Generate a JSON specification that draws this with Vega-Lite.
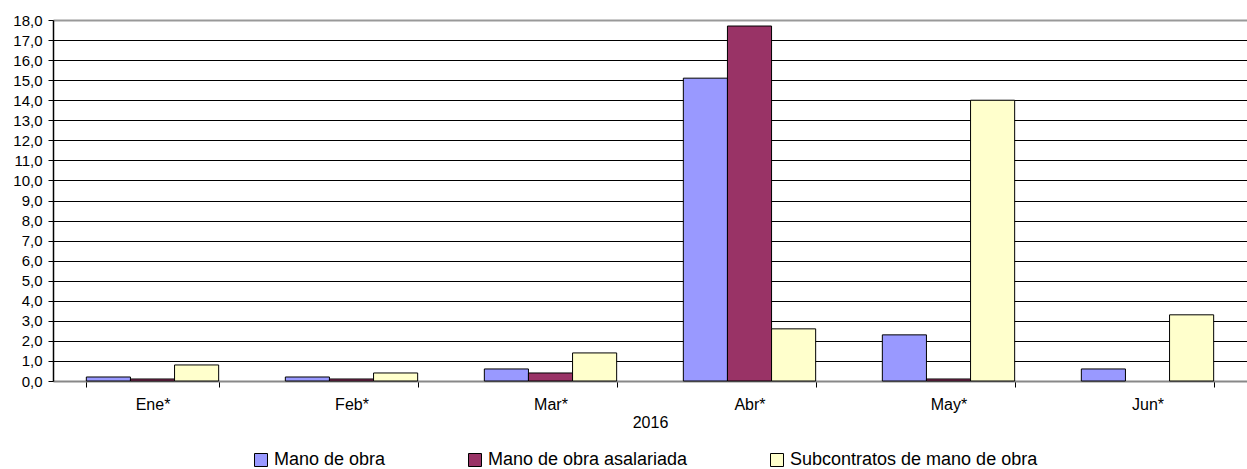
{
  "$schema": "https://vega.github.io/schema/vega-lite/v6.json",
  "autosize": {"type": "none"},
  "width": 1194,
  "height": 361,
  "padding": {"left": 53, "top": 20, "right": 0, "bottom": 88},
  "background": "white",
  "data": {"values": [
    {"mes": "Ene*", "serie": "Mano de obra", "valor": 0.2},
    {"mes": "Ene*", "serie": "Mano de obra asalariada", "valor": 0.1},
    {"mes": "Ene*", "serie": "Subcontratos de mano de obra", "valor": 0.8},
    {"mes": "Feb*", "serie": "Mano de obra", "valor": 0.2},
    {"mes": "Feb*", "serie": "Mano de obra asalariada", "valor": 0.1},
    {"mes": "Feb*", "serie": "Subcontratos de mano de obra", "valor": 0.4},
    {"mes": "Mar*", "serie": "Mano de obra", "valor": 0.6},
    {"mes": "Mar*", "serie": "Mano de obra asalariada", "valor": 0.4},
    {"mes": "Mar*", "serie": "Subcontratos de mano de obra", "valor": 1.4},
    {"mes": "Abr*", "serie": "Mano de obra", "valor": 15.1},
    {"mes": "Abr*", "serie": "Mano de obra asalariada", "valor": 17.7},
    {"mes": "Abr*", "serie": "Subcontratos de mano de obra", "valor": 2.6},
    {"mes": "May*", "serie": "Mano de obra", "valor": 2.3},
    {"mes": "May*", "serie": "Mano de obra asalariada", "valor": 0.1},
    {"mes": "May*", "serie": "Subcontratos de mano de obra", "valor": 14.0},
    {"mes": "Jun*", "serie": "Mano de obra", "valor": 0.6},
    {"mes": "Jun*", "serie": "Subcontratos de mano de obra", "valor": 3.3}
  ]},
  "mark": {"type": "bar", "stroke": "#000000", "strokeWidth": 1},
  "encoding": {
    "x": {
      "field": "mes", "type": "nominal",
      "sort": ["Ene*", "Feb*", "Mar*", "Abr*", "May*", "Jun*"],
      "scale": {"paddingInner": 0.335, "paddingOuter": 0.1675},
      "axis": {
        "title": "2016", "titleFont": "Liberation Sans", "titleFontSize": 16, "titleFontWeight": "normal",
        "titleColor": "#000", "titlePadding": 2,
        "labelFont": "Liberation Sans", "labelFontSize": 16, "labelColor": "#000", "labelAngle": 0, "labelPadding": 9,
        "tickBand": "extent", "tickColor": "#000", "tickSize": 6,
        "domainColor": "#888", "domainWidth": 2, "grid": false
      }
    },
    "xOffset": {
      "field": "serie", "type": "nominal",
      "sort": ["Mano de obra", "Mano de obra asalariada", "Subcontratos de mano de obra"],
      "scale": {"paddingInner": 0, "paddingOuter": 0}
    },
    "y": {
      "field": "valor", "type": "quantitative",
      "scale": {"domain": [0, 18], "nice": false},
      "axis": {
        "title": null,
        "values": [0,1,2,3,4,5,6,7,8,9,10,11,12,13,14,15,16,17,18],
        "labelExpr": "replace(format(datum.value, '.1f'), '.', ',')",
        "labelFont": "Liberation Sans", "labelFontSize": 15, "labelColor": "#000", "labelPadding": 6,
        "tickColor": "#000", "tickSize": 5, "domainColor": "#000", "domainWidth": 1.5,
        "grid": true,
        "gridColor": {"condition": {"test": "datum.value == 18 || datum.value == 0", "value": "#999999"}, "value": "#000000"},
        "gridWidth": {"condition": {"test": "datum.value == 18", "value": 2}, "value": 1},
        "gridOpacity": 1
      }
    },
    "fill": {
      "field": "serie", "type": "nominal",
      "scale": {
        "domain": ["Mano de obra", "Mano de obra asalariada", "Subcontratos de mano de obra"],
        "range": ["#9999FF", "#993366", "#FFFFCC"]
      },
      "legend": {
        "title": null, "orient": "none", "legendX": 199, "legendY": 431, "direction": "horizontal", "padding": 0,
        "symbolType": "square", "symbolSize": 169, "symbolStrokeColor": "#000", "symbolStrokeWidth": 1,
        "labelFont": "Liberation Sans", "labelFontSize": 18, "labelColor": "#000", "labelOffset": 4,
        "labelLimit": 0, "columnPadding": 80
      }
    }
  },
  "config": {"view": {"stroke": null}}
}
